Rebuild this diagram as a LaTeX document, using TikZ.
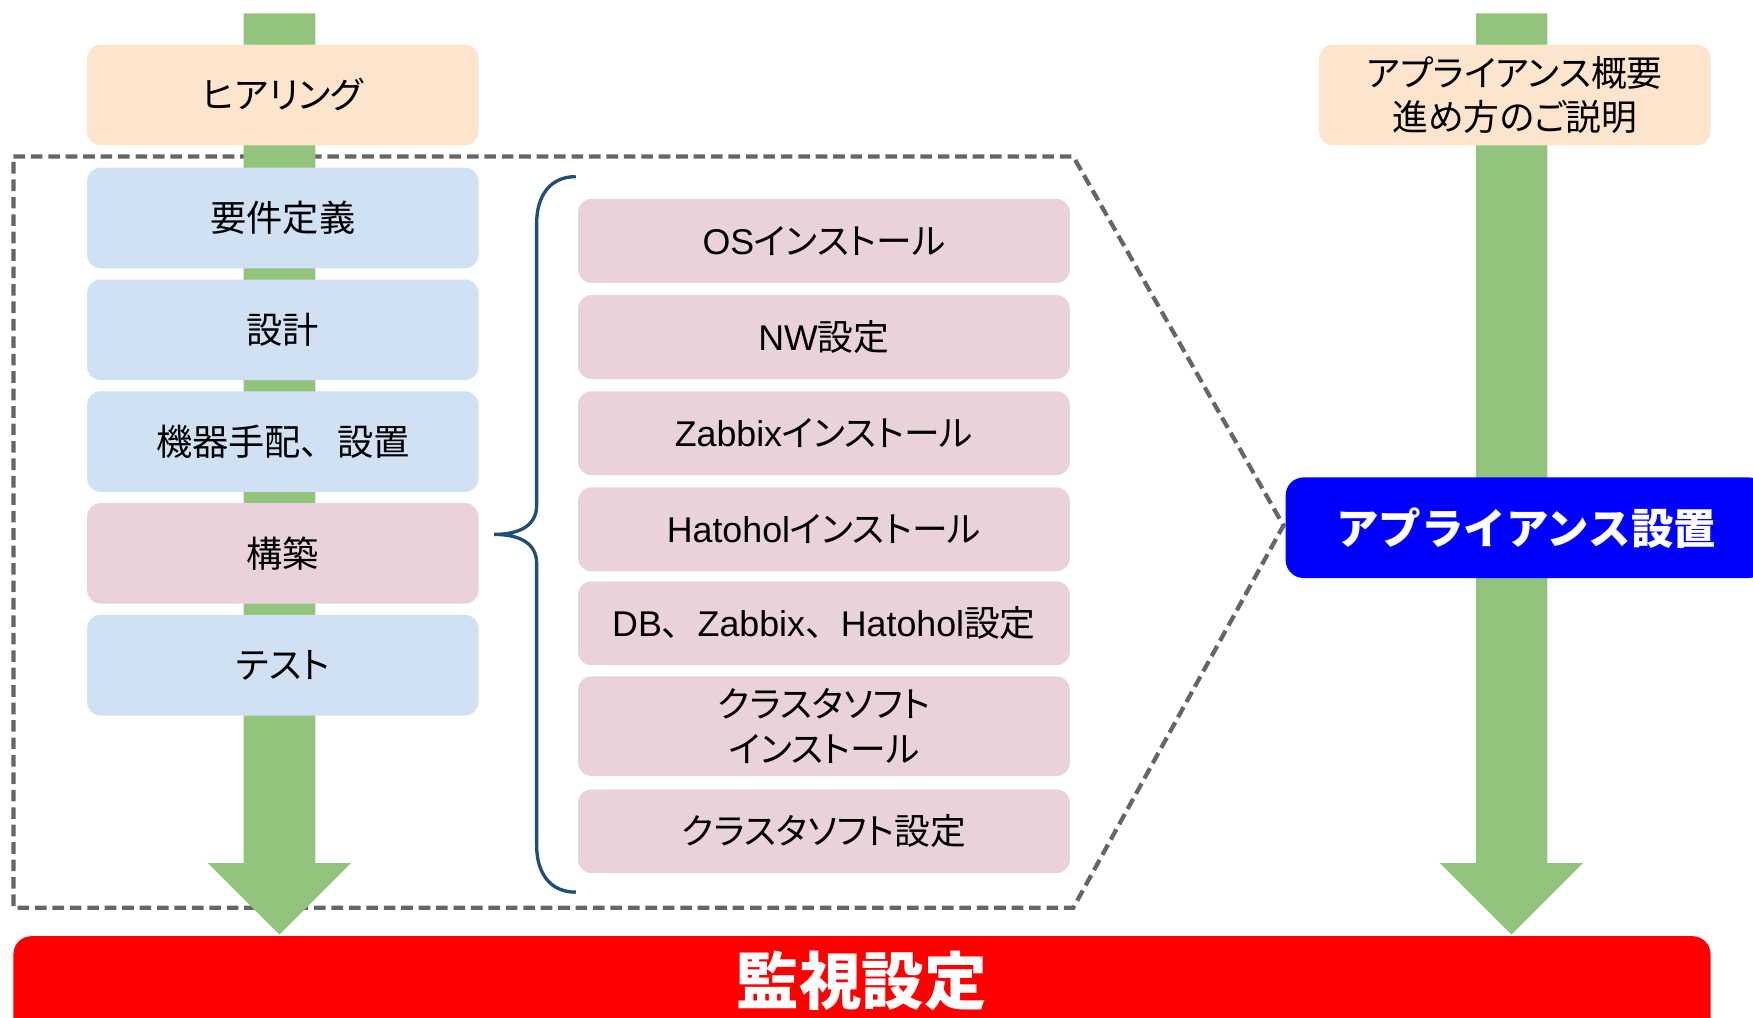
\documentclass[tikz,border=0pt]{standalone}
\usepackage{fontspec}
\setmainfont{Noto Sans CJK JP}[RawFeature=+palt]
\newfontfamily\jpfull{Noto Sans CJK JP}
\newfontfamily\lat{Liberation Sans}
\definecolor{grn}{RGB}{147,196,125}
\definecolor{peach}{RGB}{252,228,205}
\definecolor{lblue}{RGB}{207,225,242}
\definecolor{pinkbox}{RGB}{234,210,221}
\definecolor{brc}{RGB}{31,78,121}
\definecolor{dgray}{RGB}{102,102,102}
\tikzset{
  leftbox/.style={rounded corners=6pt, minimum width=175pt, minimum height=45pt, inner sep=0pt, align=center, font=\fontsize{16.2}{19}\selectfont},
  pinkitem/.style={rounded corners=6pt, fill=pinkbox, minimum width=220pt, minimum height=37.5pt, inner sep=0pt, align=center, font=\fontsize{16}{20}\selectfont},
  bigarrow/.style={fill=grn, draw=none},
  zone/.style={draw=dgray, line width=1.9pt, dash pattern=on 5.2pt off 2.6pt},
  bracestyle/.style={draw=brc, line width=1.5pt},
}
\newcommand{\fullcomma}{{\jpfull 、}}
\begin{document}
\begin{tikzpicture}[x=0.5pt,y=-0.5pt]
\useasboundingbox (0,0) rectangle (1568,910);
\clip (0,0) rectangle (1568,910);
% dashed zone
\draw[zone] (12,140) -- (960,140) -- (1148,470) -- (960,812) -- (12,812) -- cycle;
% green arrows
\fill[bigarrow] (218,12) -- (282,12) -- (282,772) -- (314,772) -- (250,836) -- (186,772) -- (218,772) -- cycle;
\fill[bigarrow] (1320,12) -- (1384,12) -- (1384,772) -- (1416,772) -- (1352,836) -- (1288,772) -- (1320,772) -- cycle;
% left column
\node[leftbox, fill=peach] (hear) at (253,85) {ヒアリング};
\node[leftbox, fill=lblue] (req) at (253,195) {要件定義};
\node[leftbox, fill=lblue] (design) at (253,295) {設計};
\node[leftbox, fill=lblue] (proc) at (253,395) {機器手配\fullcomma 設置};
\node[leftbox, fill=pinkbox] (build) at (253,495) {構築};
\node[leftbox, fill=lblue] (test) at (253,595) {テスト};
% brace
\draw[bracestyle] (515,158) .. controls (492,158) and (480,175) .. (480,200) -- (480,452) .. controls (480,470) and (465,478) .. (442,478) .. controls (465,478) and (480,486) .. (480,504) -- (480,756) .. controls (480,781) and (492,798) .. (515,798);
% pink items
\node[pinkitem] (os) at (737,215.5) {{\lat OS}インストール};
\node[pinkitem] (nw) at (737,301.5) {{\lat NW}設定};
\node[pinkitem] (zbx) at (737,387.5) {{\lat Zabbix}インストール};
\node[pinkitem] (hat) at (737,473.5) {{\lat Hatohol}インストール};
\node[pinkitem] (db) at (737,557.5) {{\lat DB}\fullcomma{\lat Zabbix}\fullcomma{\lat Hatohol}設定};
\node[pinkitem, minimum height=44.5pt, font=\fontsize{16}{20}\selectfont] (cl) at (737,649.5) {クラスタソフト\\インストール};
\node[pinkitem] (clset) at (737,743.5) {クラスタソフト設定};
% right column
\node[leftbox, fill=peach, font=\fontsize{16}{20}\selectfont] (expl) at (1355,85) {アプライアンス概要\\進め方のご説明};
\node[rounded corners=8pt, fill=blue, text=white, minimum width=215pt, minimum height=45pt, inner sep=0pt, font=\jpfull\bfseries\fontsize{19}{23}\selectfont] (app) at (1365,472) {アプライアンス設置};
% bottom
\node[rounded corners=8pt, fill=red, text=white, minimum width=759pt, minimum height=48pt, inner sep=0pt, anchor=north] (mon) at (771,837) {};
\node[text=white, inner sep=0pt, font=\jpfull\bfseries\fontsize{28}{32}\selectfont] (montext) at (771,877) {監視設定};
\end{tikzpicture}
\end{document}
